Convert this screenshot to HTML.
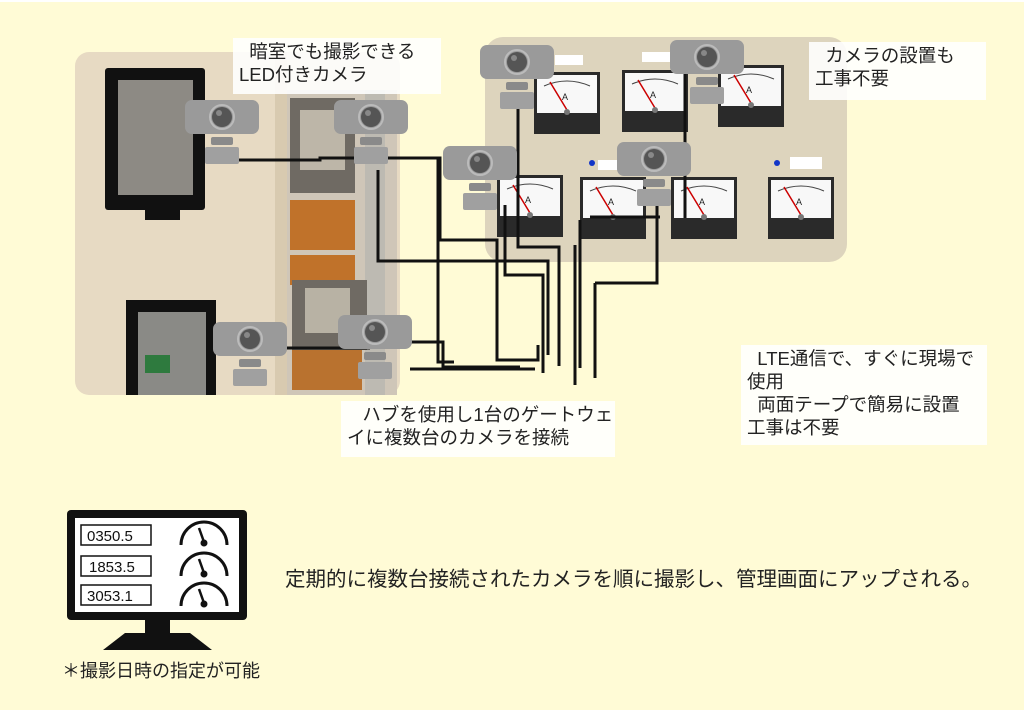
<!DOCTYPE html>
<html><head><meta charset="utf-8"><style>
html,body{margin:0;padding:0;background:#fffbd6;}
body{width:1024px;height:710px;overflow:hidden;position:relative;font-family:"Liberation Sans","Noto Sans CJK JP",sans-serif;}
.t{position:absolute;background:rgba(255,255,255,0.88);color:#222;font-size:18.5px;line-height:23px;padding:2px 6px;white-space:nowrap;}
</style></head><body>
<svg width="1024" height="710" style="position:absolute;left:0;top:0">
<defs>
<g id="cam">
<rect x="0" y="0" width="74" height="34" rx="7" fill="#9a9a9a"/>
<circle cx="37" cy="17" r="10" fill="#555"/><circle cx="37" cy="17" r="12" fill="none" stroke="#bbb" stroke-width="2"/>
<circle cx="34" cy="13" r="3" fill="#888"/>
<rect x="26" y="37" width="22" height="8" rx="2" fill="#8a8a8a"/>
<rect x="20" y="47" width="34" height="17" rx="2" fill="#a0a0a0"/>
</g>
<g id="mt">
<rect x="0" y="0" width="66" height="62" fill="#2a2a2a"/>
<rect x="3" y="3" width="60" height="38" fill="#f8f8f8"/>
<path d="M10 14 Q33 4 56 14" fill="none" stroke="#444" stroke-width="1"/>
<line x1="16" y1="10" x2="33" y2="38" stroke="#c00" stroke-width="1.5"/>
<text x="28" y="28" font-size="9" font-family="Liberation Sans" fill="#222">A</text>
<circle cx="33" cy="40" r="3" fill="#777"/>
</g>
</defs>
<rect x="0" y="0" width="1024" height="2" fill="#fff"/>
<rect x="75" y="52" width="325" height="343" rx="14" fill="#e7dac3"/>
<rect x="275" y="52" width="12" height="343" fill="#d8cab0"/>
<rect x="287" y="90" width="110" height="305" fill="#cfc6b8"/>
<rect x="365" y="90" width="20" height="305" fill="#bdbab2"/>
<rect x="290" y="200" width="65" height="50" fill="#c0722a"/>
<rect x="290" y="255" width="65" height="30" fill="#c0722a"/>
<rect x="292" y="340" width="70" height="50" fill="#b9722f"/>
<rect x="290" y="98" width="65" height="95" fill="#6f6a63"/>
<rect x="300" y="110" width="45" height="60" fill="#bdb6a8"/>
<rect x="292" y="280" width="75" height="70" fill="#6f6a63"/>
<rect x="305" y="288" width="45" height="45" fill="#b8b2a4"/>
<rect x="105" y="68" width="100" height="142" rx="3" fill="#111"/>
<rect x="118" y="80" width="75" height="115" fill="#8d8a84"/>
<rect x="145" y="210" width="35" height="10" fill="#111"/>
<rect x="126" y="300" width="90" height="95" fill="#111"/>
<rect x="138" y="312" width="68" height="83" fill="#8a8a86"/>
<rect x="145" y="355" width="25" height="18" fill="#2e7a3e"/>
<rect x="485" y="37" width="362" height="225" rx="18" fill="#ddd4bd"/>
<use href="#mt" x="534" y="72"/><use href="#mt" x="622" y="70"/>
<use href="#mt" x="718" y="65"/>
<use href="#mt" x="497" y="175"/><use href="#mt" x="580" y="177"/>
<use href="#mt" x="671" y="177"/><use href="#mt" x="768" y="177"/>
<circle cx="592" cy="163" r="3" fill="#1236c8"/><circle cx="777" cy="163" r="3" fill="#1236c8"/>
<rect x="555" y="55" width="28" height="10" fill="#fff"/><rect x="642" y="52" width="28" height="10" fill="#fff"/>
<rect x="790" y="157" width="32" height="12" fill="#fff"/><rect x="598" y="160" width="26" height="10" fill="#fff"/>
<g fill="none" stroke="#111" stroke-width="3">
<path d="M232 160 H320 V158 H440 V240 H497 V360 H538 V345"/>
<path d="M320 158 H438 V362 H454"/>
<path d="M378 170 V261 H548 V355"/>
<path d="M505 205 V275 H543 V373"/>
<path d="M518 108 V247 H559 V366"/>
<path d="M580 220 V368"/>
<path d="M590 217 H660"/>
<path d="M595 283 H657 V190"/>
<path d="M595 283 V378"/>
<path d="M685 67 V218"/>
<path d="M575 245 V385"/>
<path d="M238 348 H370"/>
<path d="M395 342 H443 V367 H520"/>
<path d="M410 369 H535"/>
</g>
<use href="#cam" x="185" y="100"/><use href="#cam" x="334" y="100"/>
<use href="#cam" x="480" y="45"/><use href="#cam" x="670" y="40"/>
<use href="#cam" x="443" y="146"/><use href="#cam" x="617" y="142"/>
<use href="#cam" x="213" y="322"/><use href="#cam" x="338" y="315"/>
<rect x="67" y="510" width="180" height="110" rx="4" fill="#111"/>
<rect x="75" y="518" width="164" height="94" fill="#fff"/>
<rect x="145" y="620" width="25" height="13" fill="#111"/>
<path d="M125 633 H190 L212 650 H103 Z" fill="#111"/>
<g fill="none" stroke="#111" stroke-width="1.5">
<rect x="81" y="525" width="70" height="20"/><rect x="81" y="556" width="70" height="20"/><rect x="81" y="585" width="70" height="20"/>
</g>
<g fill="none" stroke="#111" stroke-width="3">
<path d="M181 545 A23 23 0 0 1 227 545"/><path d="M181 576 A23 23 0 0 1 227 576"/><path d="M181 606 A23 23 0 0 1 227 606"/>
</g>
<g stroke="#111" stroke-width="2.5"><line x1="199" y1="528" x2="204" y2="542"/><line x1="199" y1="559" x2="204" y2="573"/><line x1="199" y1="589" x2="204" y2="603"/></g>
<g fill="#111"><circle cx="204" cy="543" r="3.5"/><circle cx="204" cy="574" r="3.5"/><circle cx="204" cy="604" r="3.5"/></g>
<g font-family="Liberation Sans" font-size="15" fill="#111">
<text x="87" y="541">0350.5</text><text x="89" y="572">1853.5</text><text x="87" y="601">3053.1</text>
</g>
</svg>
<div class="t" style="left:233px;top:38px;width:196px;height:52px;">&nbsp;&nbsp;暗室でも撮影できる<br>LED付きカメラ</div>
<div class="t" style="left:809px;top:42px;width:165px;height:54px;">&nbsp;&nbsp;カメラの設置も<br>工事不要</div>
<div class="t" style="left:341px;top:401px;width:262px;height:52px;">&nbsp;&nbsp;&nbsp;ハブを使用し1台のゲートウェ<br>イに複数台のカメラを接続</div>
<div class="t" style="left:741px;top:345px;width:234px;height:96px;">&nbsp;&nbsp;LTE通信で、すぐに現場で<br>使用<br>&nbsp;&nbsp;両面テープで簡易に設置<br>工事は不要</div>
<div style="position:absolute;left:285px;top:562px;font-size:20.5px;color:#222;white-space:nowrap;">定期的に複数台接続されたカメラを順に撮影し、管理画面にアップされる。</div>
<div style="position:absolute;left:62px;top:657px;font-size:18px;color:#222;white-space:nowrap;">＊撮影日時の指定が可能</div>
</body></html>
